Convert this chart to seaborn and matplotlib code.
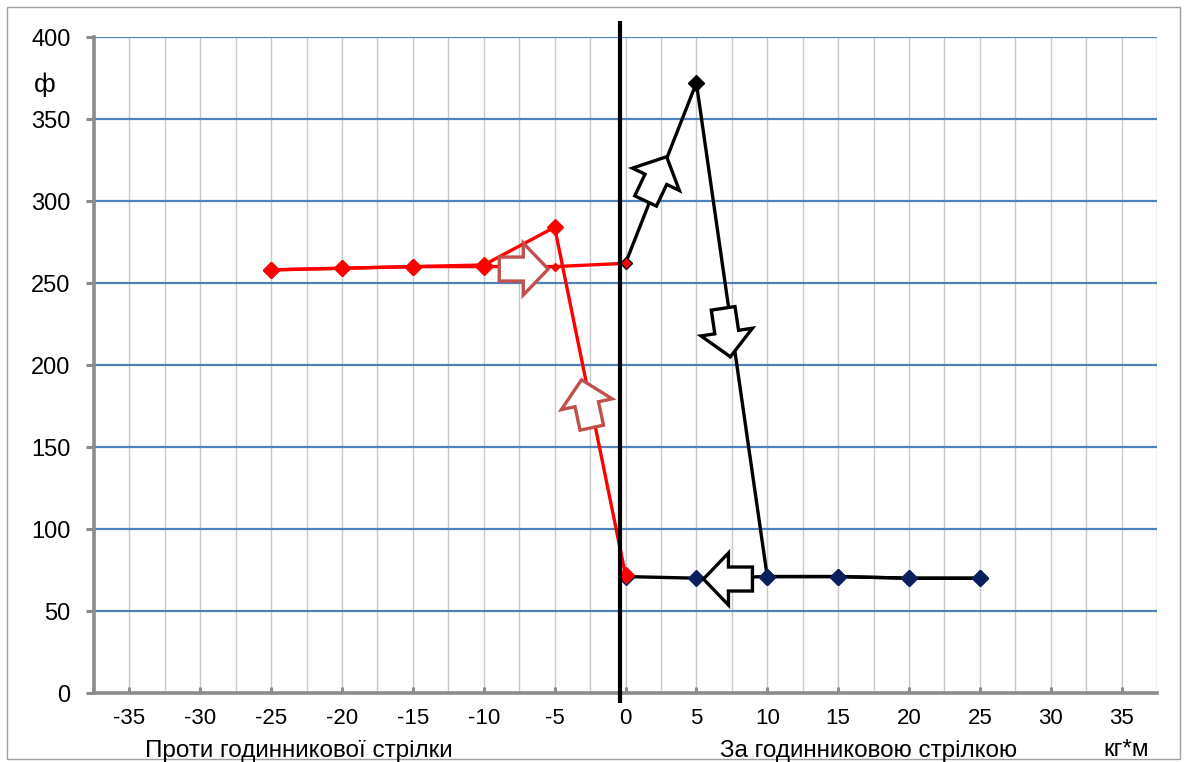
import numpy as np
import pandas as pd
import matplotlib
matplotlib.use("Agg")
import matplotlib.pyplot as plt
import seaborn as sns
from matplotlib.patches import Polygon, Rectangle
from matplotlib.transforms import Affine2D, ScaledTranslation
from matplotlib import font_manager

# ---- data -----------------------------------------------------------------
torque = [-25, -20, -15, -10, -5, 0]            # counter-clockwise branch, kg*m
phi_ccw_up = [258, 259, 260, 261, 284, 72]       # loading
phi_ccw_back = [258, 259, 260, 260, 260, 262]    # unloading

torque_cw = [0, 5, 10, 15, 20, 25]               # clockwise branch, kg*m
phi_cw_up = [262, 372, 71, 71, 70, 70]
phi_cw_back = [71, 70, 71, 71, 70, 70]

x_ticks = [-35, -30, -25, -20, -15, -10, -5, 0, 5, 10, 15, 20, 25, 30, 35]
y_ticks = [0, 50, 100, 150, 200, 250, 300, 350, 400]

label_ccw = "Проти годинникової стрілки"
label_cw = "За годинниковою стрілкою"
label_unit = "кг*м"
label_phi = "ф"

# ---- style ----------------------------------------------------------------
sns.set_theme(style="white")
names = {f.name for f in font_manager.fontManager.ttflist}
narrow = "Liberation Sans Narrow" in names
plt.rcParams["font.family"] = ["Liberation Sans", "DejaVu Sans"]

RED = "#FF0000"
NAVY = "#0B1F5C"
BROWN = "#C0504D"
AXIS_GREY = "#8C8C8C"

fig = plt.figure(figsize=(11.84, 7.62), dpi=100)
ax = fig.add_axes([94 / 1184, 1 - 693 / 762, (1157 - 94) / 1184, (693 - 37) / 762])

# ---- series ---------------------------------------------------------------
df = pd.DataFrame({
    "x": torque + torque + torque_cw + torque_cw,
    "phi": phi_ccw_up + phi_ccw_back + phi_cw_up + phi_cw_back,
    "series": ["ccw_up"] * 6 + ["ccw_back"] * 6 + ["cw_up"] * 6 + ["cw_back"] * 6,
})

def draw(name, color, lw, z):
    sub = df[df.series == name]
    sns.lineplot(data=sub, x="x", y="phi", sort=False, estimator=None,
                 color=color, lw=lw, ax=ax, zorder=z, legend=False)

draw("cw_back", "black", 2.4, 3)
draw("cw_up", "black", 2.4, 3)
draw("ccw_back", RED, 2.4, 4)
draw("ccw_up", RED, 2.4, 4)

# markers
cwb = df[df.series == "cw_back"]
ax.plot(cwb.x, cwb.phi, ls="none", marker="D", ms=8.5, color=NAVY, zorder=5)
cwu = df[df.series == "cw_up"]
ax.plot(cwu.x[2:], cwu.phi[2:], ls="none", marker="D", ms=8.5, color=NAVY, zorder=5)
ax.plot(cwu.x[1:2], cwu.phi[1:2], ls="none", marker="D", ms=8, color="black", zorder=5)
ccb = df[df.series == "ccw_back"]
ax.plot(ccb.x[:4], ccb.phi[:4], ls="none", marker="D", ms=8.5, color=RED, zorder=6)
ax.plot(ccb.x[4:5], ccb.phi[4:5], ls="none", marker="D", ms=4.5, color=RED, zorder=6)
ax.plot(ccb.x[5:], ccb.phi[5:], ls="none", marker="D", ms=6.5, mfc=RED, mec="black",
        mew=1.0, zorder=6)
ccu = df[df.series == "ccw_up"]
ax.plot(ccu.x, ccu.phi, ls="none", marker="D", ms=8.5, color=RED, zorder=6)

# ---- axes -----------------------------------------------------------------
ax.set_xlim(-37.5, 37.5)
ax.set_ylim(0, 400)
ax.set_xlabel("")
ax.set_ylabel("")

# grid: grey verticals every 2.5, blue horizontals every 50
ax.set_xticks(x_ticks)
ax.set_xticks(np.arange(-37.5, 37.6, 2.5), minor=True)
ax.set_yticks(y_ticks)
ax.grid(which="both", axis="x", color="#C8C8C8", lw=1.0, zorder=0)
ax.grid(which="major", axis="y", color="#4F81BD", lw=1.6, zorder=0)
ax.set_axisbelow(True)

for side in ("top", "right"):
    ax.spines[side].set_visible(False)
for side in ("left", "bottom"):
    ax.spines[side].set_color(AXIS_GREY)
    ax.spines[side].set_linewidth(2.6)

ax.tick_params(axis="y", which="major", direction="out", length=6, width=2.2,
               color=AXIS_GREY, pad=11, labelsize=17, labelcolor="black", left=True)
ax.tick_params(axis="x", which="major", direction="in", length=4, width=2.2,
               color=AXIS_GREY, pad=10.5, labelsize=16, labelcolor="black", bottom=True)
ax.tick_params(axis="x", which="minor", length=0)
ax.set_xticklabels([str(v) for v in x_ticks])
ax.set_yticklabels([str(v) for v in y_ticks])

# zero-torque divider
ax.plot([-0.4, -0.4], [-6, 410], color="black", lw=3, clip_on=False, zorder=7,
        solid_capstyle="butt")

# ---- hollow block arrows showing direction of travel ----------------------
def block_arrow(tip_x, tip_y, angle, color, head=25, tail=24, hw=26, tw=12):
    verts = [(0, 0), (-head, hw), (-head, tw), (-head - tail, tw),
             (-head - tail, -tw), (-head, -tw), (-head, -hw)]
    tr = Affine2D().rotate_deg(angle) + ScaledTranslation(tip_x, tip_y, ax.transData)
    poly = Polygon(verts, closed=True, facecolor="white", edgecolor=color,
                   lw=2.4, joinstyle="miter", transform=tr, zorder=8)
    ax.add_patch(poly)

block_arrow(-5.45, 258.5, 0, BROWN)
block_arrow(-3.1, 191, 102, BROWN)
block_arrow(2.9, 327, 64.6, "black")
block_arrow(7.4, 205, -81.5, "black")
block_arrow(5.5, 69.5, 180, "black")

# ---- frame and captions ---------------------------------------------------
border = Rectangle((7 / 1184, 1 - 759 / 762), 1173 / 1184, 752 / 762,
                   transform=fig.transFigure, fill=False, edgecolor="#A0A0A0",
                   lw=1.0, zorder=0)
fig.patches.append(border)

if narrow:
    cap_font = dict(family=["Liberation Sans Narrow", "DejaVu Sans"], size=21)
else:
    cap_font = dict(family=["Liberation Sans", "DejaVu Sans"], size=17.5)

for txt, xpix in ((label_ccw, 145), (label_cw, 720), (label_unit, 1103)):
    fig.text(xpix / 1184, 1 - 756.5 / 762, txt, ha="left", va="baseline",
             color="black", **cap_font)

fig.text(45 / 1184, 1 - 85 / 762, label_phi, ha="center", va="center",
         fontsize=19, color="black")

fig.savefig("out.png", dpi=100)
